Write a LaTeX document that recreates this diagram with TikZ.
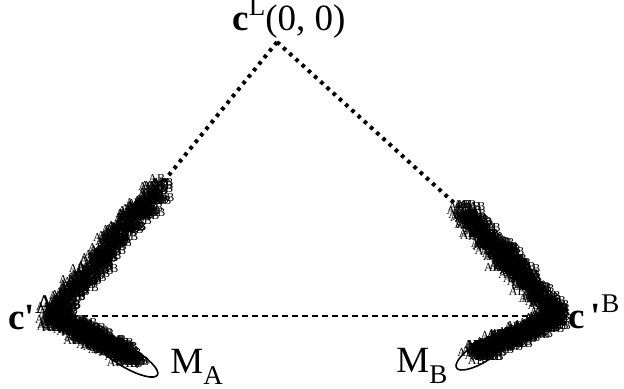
\documentclass[tikz,border=0pt]{standalone}
\usepackage{fontspec}
\setmainfont{Liberation Serif}
\newfontfamily\plainquote{Liberation Serif}
\usetikzlibrary{
    calc
}
\newcommand{\supr}[1]{\raisebox{0.42em}{\fontsize{13.5pt}{13.5pt}\selectfont #1}}
\newcommand{\subr}[1]{\raisebox{-0.32em}{\fontsize{13.5pt}{13.5pt}\selectfont #1}}
\newcommand{\tick}{{\plainquote\bfseries '}}

\begin{document}
\begin{tikzpicture}[
        x=0.5pt,
        y=-0.5pt,
        every node/.style={
            font=\fontsize{18.5pt}{22pt}\selectfont,
            inner sep=0pt
        },
        sample/.style={
            font=\fontsize{6pt}{6pt}\selectfont,
            inner sep=0pt
        },
        blob/.style={
            draw,
            line width=0.35pt
        },
        spoke/.style={
            line width=2pt,
            dash pattern=on 1.8pt off 2.4pt
        },
        chord/.style={
            line width=0.8pt,
            dash pattern=on 3pt off 2pt
        },
        ring/.style={
            line width=0.8pt
        }
    ]

    \useasboundingbox (0,0) rectangle (624,389);
    \pgfmathsetseed{11}

    % corner points
    \coordinate (apex) at (277,42);
    \coordinate (topA) at (160,186);
    \coordinate (topB) at (463,211);
    \coordinate (cA) at (52,316);
    \coordinate (cB) at (558,316);
    \coordinate (endA) at (134,358);
    \coordinate (endB) at (476,353);

    \draw[spoke] (apex) -- (topA);
    \draw[spoke] (apex) -- (topB);
    \draw[chord] (cA) -- (cB);

    % sampled clusters
    \foreach \p/\q/\n/\w in {topA/cA/380/6.5, cA/endA/380/5.5, topB/cB/380/6.5, cB/endB/360/5.5}{
        \foreach \i in {1,...,\n}{
            \pgfmathsetmacro\t{rnd}
            \pgfmathsetmacro\dx{\w*(rand+rand)}
            \pgfmathsetmacro\dy{\w*(rand+rand)}
            \node[sample] at ($(\p)!\t!(\q)+(\dx,\dy)$) {AB};
            \draw[blob] ($(\p)!\t!(\q)+(\dy,\dx)$) circle[radius=0.9pt];
        }
    }

    \draw[ring, rotate around={-30:(128,358)}]
        (128,358) ellipse [x radius=34, y radius=10];
    \draw[ring, rotate around={32:(482,352)}]
        (482,352) ellipse [x radius=30, y radius=10];

    \node[anchor=base west] (labL) at (232,31)
        {\textbf{c}\supr{L}(0, 0)};
    \node[anchor=base west] (labA) at (8,329)
        {\textbf{c}\tick\supr{A}};
    \node[anchor=base west] (labB) at (568,328)
        {\textbf{c}\,\tick\supr{B}};
    \node[anchor=base west] (labMA) at (170,373)
        {M\subr{A}};
    \node[anchor=base west] (labMB) at (396,372)
        {M\subr{B}};

\end{tikzpicture}
\end{document}
